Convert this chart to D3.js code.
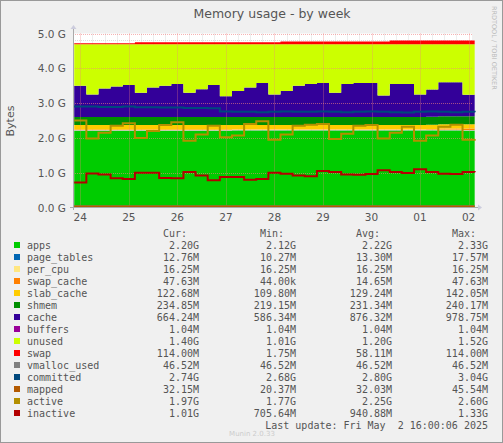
<!DOCTYPE html>
<html><head><meta charset="utf-8">
<script src="https://cdn.jsdelivr.net/npm/d3@7"></script>
<style>body{margin:0;background:#fff}svg{display:block}</style>
</head><body><div id="chart"></div>
<script>
// sample times in days from Apr 24 00:00, every 6 hours
const times = d3.range(34).map(i => -0.125 + 0.25 * i);
const dayLabels = ["24", "25", "26", "27", "28", "29", "30", "01", "02"];
const yTicks = [0, 1, 2, 3, 4, 5];

const apps = [2.20,2.20,2.20,2.20,2.20,2.20,2.20,2.20,2.20,2.20,2.20,2.20,2.20,2.21,2.21,2.21,2.21,2.21,2.21,2.21,2.21,2.21,2.21,2.21,2.21,2.21,2.21,2.21,2.21,2.21,2.21,2.21,2.20,2.20];
const pageTables = [0.013,0.013,0.013,0.013,0.013,0.013,0.013,0.013,0.013,0.013,0.013,0.013,0.013,0.013,0.013,0.013,0.013,0.013,0.013,0.013,0.013,0.013,0.013,0.013,0.013,0.013,0.013,0.013,0.013,0.013,0.013,0.013,0.013,0.013];
const perCpu = [0.016,0.016,0.016,0.016,0.016,0.016,0.016,0.016,0.016,0.016,0.016,0.016,0.016,0.016,0.016,0.016,0.016,0.016,0.016,0.016,0.016,0.016,0.016,0.016,0.016,0.016,0.016,0.016,0.016,0.016,0.016,0.016,0.016,0.016];
const swapCache = [0.01,0.01,0.01,0.01,0.01,0.01,0.01,0.01,0.01,0.01,0.01,0.01,0.01,0.01,0.01,0.01,0.01,0.01,0.01,0.01,0.01,0.01,0.01,0.01,0.01,0.01,0.01,0.01,0.01,0.02,0.03,0.03,0.04,0.04];
const slabCache = [0.13,0.13,0.13,0.13,0.13,0.13,0.13,0.13,0.13,0.13,0.13,0.13,0.13,0.12,0.12,0.12,0.12,0.12,0.12,0.12,0.12,0.12,0.12,0.12,0.12,0.12,0.12,0.12,0.12,0.12,0.12,0.12,0.12,0.12];
const shmem = [0.23,0.23,0.23,0.23,0.23,0.23,0.23,0.23,0.23,0.23,0.23,0.23,0.23,0.23,0.23,0.23,0.23,0.23,0.23,0.23,0.23,0.23,0.23,0.23,0.23,0.23,0.23,0.23,0.23,0.23,0.23,0.23,0.23,0.23];
const cache = [0.90,0.65,0.82,0.88,0.92,0.70,0.85,0.90,0.95,0.70,0.80,0.92,0.60,0.75,0.85,0.98,0.65,0.75,0.90,0.95,0.98,0.70,0.95,0.98,0.98,0.62,0.95,0.95,0.65,0.78,0.98,0.98,0.62,0.60];
const buffers = [0.001,0.001,0.001,0.001,0.001,0.001,0.001,0.001,0.001,0.001,0.001,0.001,0.001,0.001,0.001,0.001,0.001,0.001,0.001,0.001,0.001,0.001,0.001,0.001,0.001,0.001,0.001,0.001,0.001,0.001,0.001,0.001,0.001,0.001];
const unused = [1.19,1.44,1.27,1.21,1.17,1.39,1.24,1.19,1.14,1.39,1.29,1.17,1.49,1.34,1.24,1.11,1.44,1.34,1.19,1.14,1.11,1.39,1.14,1.11,1.11,1.47,1.14,1.14,1.44,1.30,1.09,1.09,1.45,1.47];
const swap = [0.03,0.03,0.03,0.03,0.03,0.06,0.06,0.06,0.06,0.06,0.06,0.06,0.06,0.06,0.06,0.06,0.06,0.08,0.08,0.08,0.08,0.08,0.08,0.08,0.08,0.08,0.11,0.11,0.11,0.11,0.11,0.11,0.11,0.11];

const vmalloc = [0.0465,0.0465,0.0465,0.0465,0.0465,0.0465,0.0465,0.0465,0.0465,0.0465,0.0465,0.0465,0.0465,0.0465,0.0465,0.0465,0.0465,0.0465,0.0465,0.0465,0.0465,0.0465,0.0465,0.0465,0.0465,0.0465,0.0465,0.0465,0.0465,0.0465,0.0465,0.0465,0.0465,0.0465];
const committed = [2.90,2.90,2.89,2.89,2.90,2.88,2.88,2.87,2.87,2.86,2.86,2.85,2.76,2.75,2.75,2.74,2.75,2.76,2.75,2.75,2.76,2.75,2.74,2.75,2.76,2.75,2.74,2.73,2.75,2.76,2.75,2.74,2.75,2.74];
const mapped = [0.03,0.03,0.03,0.03,0.03,0.03,0.03,0.03,0.03,0.03,0.03,0.03,0.03,0.03,0.03,0.03,0.03,0.03,0.03,0.03,0.03,0.03,0.03,0.03,0.03,0.03,0.03,0.03,0.03,0.03,0.03,0.03,0.03,0.03];
const active = [2.50,1.98,2.15,2.35,2.42,2.00,2.20,2.37,2.45,1.92,2.10,2.35,2.02,2.07,2.40,2.48,1.95,2.10,2.35,2.38,2.40,1.97,2.12,2.35,2.37,1.98,2.15,2.32,1.92,2.07,2.32,2.38,1.95,1.97];
const inactive = [0.72,0.98,0.95,0.84,0.82,1.00,1.00,0.85,0.84,1.02,0.92,0.78,0.88,0.88,0.80,0.82,1.00,0.97,0.92,0.90,1.05,1.02,0.95,0.94,0.96,1.07,1.02,0.99,1.10,1.02,0.97,0.96,1.02,1.01];

const stackNames = ["apps","page_tables","per_cpu","swap_cache","slab_cache","shmem","cache","buffers","unused","swap"];
const stackValues = [apps,pageTables,perCpu,swapCache,slabCache,shmem,cache,buffers,unused,swap];
const lineNames = ["vmalloc_used","committed","mapped","active","inactive"];
const lineValues = [vmalloc,committed,mapped,active,inactive];
const colors = {apps:"#00CC00",page_tables:"#0066B3",per_cpu:"#FFE680",swap_cache:"#FF8000",slab_cache:"#FFCC00",shmem:"#008F00",cache:"#330099",buffers:"#990099",unused:"#CCFF00",swap:"#FF0000",vmalloc_used:"#808080",committed:"#00487D",mapped:"#B35A00",active:"#B38F00",inactive:"#B30000"};

const legendNames = stackNames.concat(lineNames);
const cur = ["2.20G","12.76M","16.25M","47.63M","122.68M","234.85M","664.24M","1.04M","1.40G","114.00M","46.52M","2.74G","32.15M","1.97G","1.01G"];
const min = ["2.12G","10.27M","16.25M","44.00k","109.80M","219.15M","586.34M","1.04M","1.01G","1.75M","46.52M","2.68G","20.37M","1.77G","705.64M"];
const avg = ["2.22G","13.30M","16.25M","14.65M","129.24M","231.34M","876.32M","1.04M","1.20G","58.11M","46.52M","2.80G","32.03M","2.25G","940.88M"];
const max = ["2.33G","17.57M","16.25M","47.63M","142.05M","240.17M","978.75M","1.04M","1.52G","114.00M","46.52M","3.04G","45.54M","2.60G","1.33G"];

const W = 503, H = 443;
const svg = d3.select("#chart").append("svg").attr("width", W).attr("height", H);
svg.append("rect").attr("width", W).attr("height", H).attr("fill", "#F0F0F0");
svg.append("rect").attr("x", 0.5).attr("y", 0.5).attr("width", W - 1).attr("height", H - 1)
  .attr("fill", "none").attr("stroke", "#999").attr("stroke-width", 1);

const x = d3.scaleLinear().domain([-0.15, 8.07]).range([73, 472]);
const y = d3.scaleLinear().domain([0, 5]).range([207.5, 33.5]);

svg.append("rect").attr("x", 73).attr("y", 33.5).attr("width", 399).attr("height", 174).attr("fill", "#fff");

const g = svg.append("g");
// minor grid
const minorX = d3.range(-0.5, 8.1, 0.25).filter(d => d > -0.15 && d < 8.07 && d % 1 !== 0);
g.selectAll(".mx").data(minorX).join("line").attr("x1", d => Math.round(x(d)) + 0.5).attr("x2", d => Math.round(x(d)) + 0.5)
  .attr("y1", 33.5).attr("y2", 207.5).attr("stroke", "#ddd").attr("stroke-dasharray", "1,1");
const minorY = d3.range(0.2, 5.01, 0.2).filter(d => Math.abs(d - Math.round(d)) > 0.01);
g.selectAll(".my").data(minorY).join("line").attr("y1", d => Math.round(y(d)) + 0.5).attr("y2", d => Math.round(y(d)) + 0.5)
  .attr("x1", 73).attr("x2", 472).attr("stroke", "#ddd").attr("stroke-dasharray", "1,1");

// stacked areas
const rows = times.map((t, i) => {
  const r = { t };
  stackNames.forEach((n, k) => r[n] = stackValues[k][i]);
  return r;
});
const series = d3.stack().keys(stackNames)(rows);
const area = d3.area().curve(d3.curveStepAfter)
  .x(d => x(d.data.t)).y0(d => y(d[0])).y1(d => y(d[1]));
svg.append("g").selectAll("path").data(series).join("path")
  .attr("d", area).attr("fill", d => colors[d.key]);

// major grid over areas
svg.append("g").selectAll("line").data(d3.range(0, 9)).join("line")
  .attr("x1", d => Math.round(x(d)) + 0.5).attr("x2", d => Math.round(x(d)) + 0.5)
  .attr("y1", 33.5).attr("y2", 207.5).attr("stroke", "#F08080").attr("stroke-opacity", 0.6).attr("stroke-dasharray", "1,1");
svg.append("g").selectAll("line").data(yTicks.slice(1)).join("line")
  .attr("y1", d => Math.round(y(d)) + 0.5).attr("y2", d => Math.round(y(d)) + 0.5)
  .attr("x1", 73).attr("x2", 472).attr("stroke", "#F08080").attr("stroke-opacity", 0.6).attr("stroke-dasharray", "1,1");

// lines
const line = d3.line().curve(d3.curveStepAfter).x((d, i) => x(times[i])).y(d => y(d));
svg.append("g").selectAll("path").data(lineNames).join("path")
  .attr("d", (n, k) => line(lineValues[k]))
  .attr("fill", "none").attr("stroke", n => colors[n]).attr("stroke-width", n => n === "vmalloc_used" ? 1 : 2);

// axes
const axisColor = "#aaa";
svg.append("line").attr("x1", 70).attr("x2", 478).attr("y1", 207.5).attr("y2", 207.5).attr("stroke", axisColor);
svg.append("path").attr("d", "M478,204.5L482,207.5L478,210.5Z").attr("fill", "#ccd");
svg.append("line").attr("x1", 73.5).attr("x2", 73.5).attr("y1", 210).attr("y2", 29).attr("stroke", axisColor);
svg.append("path").attr("d", "M70.5,29L73.5,25L76.5,29Z").attr("fill", "#ccd");

const txt = "#555";
svg.append("g").selectAll("text").data(yTicks).join("text")
  .attr("x", 66).attr("y", d => y(d) + 4).attr("text-anchor", "end")
  .attr("font-family", "DejaVu Sans").attr("font-size", 10.5).attr("fill", txt)
  .text(d => d.toFixed(1) + " G");
svg.append("g").selectAll("text").data(dayLabels).join("text")
  .attr("x", (d, i) => x(i)).attr("y", 221).attr("text-anchor", "middle")
  .attr("font-family", "DejaVu Sans").attr("font-size", 10.5).attr("fill", txt)
  .text(d => d);

svg.append("text").attr("x", 272).attr("y", 18).attr("text-anchor", "middle")
  .attr("font-family", "DejaVu Sans").attr("font-size", 12.5).attr("fill", txt).text("Memory usage - by week");
svg.append("text").attr("transform", "translate(14,121) rotate(-90)").attr("text-anchor", "middle")
  .attr("font-family", "DejaVu Sans").attr("font-size", 11).attr("fill", txt).text("Bytes");
svg.append("text").attr("transform", "translate(492,6) rotate(90)").attr("text-anchor", "start")
  .attr("font-family", "DejaVu Sans").attr("font-size", 6.5).attr("fill", "#bbb").text("RRDTOOL / TOBI OETIKER");

// legend
const mono = "DejaVu Sans Mono";
const colX = [199, 296, 392, 488];
const heads = ["Cur:", "Min:", "Avg:", "Max:"];
svg.append("g").selectAll("text").data(heads).join("text")
  .attr("x", (d, i) => colX[i] - 12).attr("y", 237).attr("text-anchor", "end")
  .attr("font-family", mono).attr("font-size", 10).attr("fill", txt).text(d => d);
const leg = svg.append("g").selectAll("g").data(legendNames).join("g")
  .attr("transform", (d, i) => `translate(0,${249 + i * 12})`);
leg.append("rect").attr("x", 14).attr("y", -7).attr("width", 6).attr("height", 6).attr("fill", d => colors[d]);
leg.append("text").attr("x", 27).attr("font-family", mono).attr("font-size", 10).attr("fill", txt).text(d => d);
[cur, min, avg, max].forEach((arr, c) => {
  leg.append("text").attr("x", colX[c]).attr("text-anchor", "end")
    .attr("font-family", mono).attr("font-size", 10).attr("fill", txt).text((d, i) => arr[i]);
});
svg.append("text").attr("x", 488).attr("y", 429).attr("text-anchor", "end")
  .attr("font-family", mono).attr("font-size", 10).attr("fill", txt).text("Last update: Fri May  2 16:00:06 2025")
  .attr("xml:space", "preserve").style("white-space", "pre");
svg.append("text").attr("x", 252).attr("y", 436).attr("text-anchor", "middle")
  .attr("font-family", "DejaVu Sans").attr("font-size", 7).attr("fill", "#ccc").text("Munin 2.0.33");
</script></body></html>
